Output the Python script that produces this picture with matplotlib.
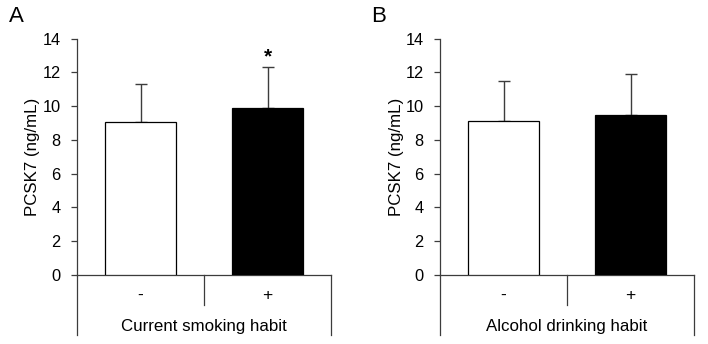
import matplotlib
matplotlib.use("Agg")
import matplotlib.pyplot as plt

plt.rcParams["font.family"] = ["Liberation Sans", "DejaVu Sans"]

# -----------------------------
# Data
# -----------------------------
groups = ["-", "+"]
smoking_mean = [9.05, 9.88]
smoking_sd = [2.28, 2.44]
alcohol_mean = [9.15, 9.45]
alcohol_sd = [2.32, 2.43]

panel_letters = ["A", "B"]
xlabels = ["Current smoking habit", "Alcohol drinking habit"]
ylabel = "PCSK7 (ng/mL)"
yticks = [0, 2, 4, 6, 8, 10, 12, 14]
star_panel = 0
star_group = 1

line_col = "#3c3c3c"
bar_colors = ["white", "black"]

fig = plt.figure(figsize=(7.08, 3.44), dpi=100)
axes = [fig.add_axes([77 / 708, 69 / 344, 254 / 708, 236.3 / 344]),
        fig.add_axes([440 / 708, 69 / 344, 254 / 708, 236.3 / 344])]

data = [(smoking_mean, smoking_sd), (alcohol_mean, alcohol_sd)]

for i, ax in enumerate(axes):
    means, sds = data[i]
    x = list(range(len(groups)))
    ax.bar(x, means, width=0.56, color=bar_colors, edgecolor="black",
           linewidth=0.9, zorder=3)
    # upper error bars only
    ax.errorbar(x, means, yerr=[[0, 0], sds], fmt="none", ecolor=line_col,
                 elinewidth=1.0, capsize=4.3, capthick=1.0, zorder=2)

    ax.set_xlim(-0.5, 1.5)
    ax.set_ylim(0, 14)
    ax.set_yticks(yticks)
    ax.set_xticks([])
    ax.tick_params(axis="y", direction="out", length=4.3, width=0.9,
                   color=line_col, pad=7.5, labelsize=11.8)

    for s in ["top", "right"]:
        ax.spines[s].set_visible(False)
    ax.spines["left"].set_color(line_col)
    ax.spines["left"].set_linewidth(0.9)
    ax.spines["bottom"].set_color(line_col)
    ax.spines["bottom"].set_linewidth(0.9)

    # category box below the axis
    tr = ax.get_xaxis_transform()
    ax.plot([-0.5, -0.5], [0, -0.254], color=line_col, lw=0.9,
            transform=tr, clip_on=False)
    ax.plot([1.5, 1.5], [0, -0.254], color=line_col, lw=0.9,
            transform=tr, clip_on=False)
    ax.plot([0.5, 0.5], [0, -0.127], color=line_col, lw=0.9,
            transform=tr, clip_on=False)
    for xi, g in zip(x, groups):
        ax.text(xi, -0.085, g, transform=tr, ha="center", va="center",
                fontsize=12.5)
    ax.text(0.5, -0.218, xlabels[i], transform=tr, ha="center",
            va="center", fontsize=12.2)

    ax.text(-44 / 254, 0.5, ylabel, transform=ax.transAxes, rotation=90,
            ha="center", va="center", fontsize=12.2)

    fig.text((ax.get_position().x0 * 708 - 61) / 708, 0.953, panel_letters[i],
             ha="center", va="center", fontsize=16)

    if i == star_panel:
        ax.text(star_group, means[star_group] + sds[star_group] + 0.6, "*",
                ha="center", va="center", fontsize=15, fontweight="bold")

fig.savefig("out.png", dpi=100)
